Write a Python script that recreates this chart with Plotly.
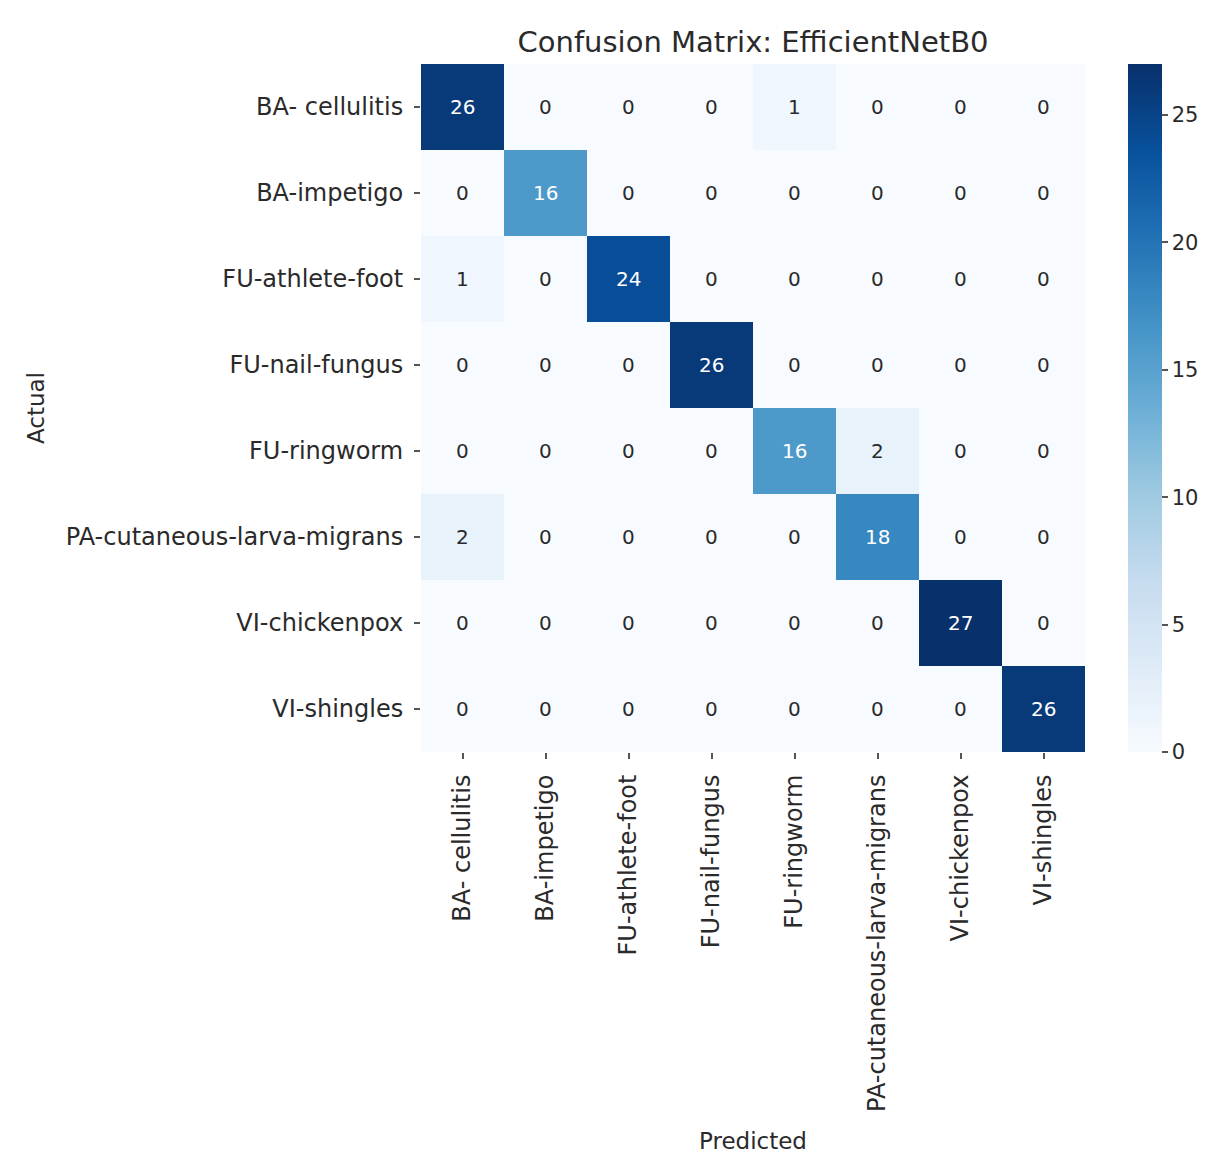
import plotly.graph_objects as go

# Class labels shared by both axes
classes = [
    "BA- cellulitis",
    "BA-impetigo",
    "FU-athlete-foot",
    "FU-nail-fungus",
    "FU-ringworm",
    "PA-cutaneous-larva-migrans",
    "VI-chickenpox",
    "VI-shingles",
]

# Confusion counts: rows = actual, columns = predicted
row_ba_cellulitis = [26, 0, 0, 0, 1, 0, 0, 0]
row_ba_impetigo = [0, 16, 0, 0, 0, 0, 0, 0]
row_fu_athlete_foot = [1, 0, 24, 0, 0, 0, 0, 0]
row_fu_nail_fungus = [0, 0, 0, 26, 0, 0, 0, 0]
row_fu_ringworm = [0, 0, 0, 0, 16, 2, 0, 0]
row_pa_clm = [2, 0, 0, 0, 0, 18, 0, 0]
row_vi_chickenpox = [0, 0, 0, 0, 0, 0, 27, 0]
row_vi_shingles = [0, 0, 0, 0, 0, 0, 0, 26]

matrix = [
    row_ba_cellulitis,
    row_ba_impetigo,
    row_fu_athlete_foot,
    row_fu_nail_fungus,
    row_fu_ringworm,
    row_pa_clm,
    row_vi_chickenpox,
    row_vi_shingles,
]

colorbar_ticks = [0, 5, 10, 15, 20, 25]

# Matplotlib "Blues" colormap stops
blues = ["#f7fbff", "#deebf7", "#c6dbef", "#9ecae1", "#6baed6",
         "#4292c6", "#2171b5", "#08519c", "#08306b"]
colorscale = [[i / (len(blues) - 1), c] for i, c in enumerate(blues)]

zmin = 0
zmax = max(max(r) for r in matrix)

FONT = "DejaVu Sans"
TEXT = "#2a2a2a"

# Plot-area geometry in pixels
W, H = 1212, 1154
L, R, T, B = 421, 127, 64, 402
plot_w = W - L - R

fig = go.Figure(
    go.Heatmap(
        z=matrix,
        x=classes,
        y=classes,
        zmin=zmin,
        zmax=zmax,
        colorscale=colorscale,
        showscale=True,
        colorbar=dict(
            x=(1128 - L) / plot_w,
            xanchor="left",
            xref="paper",
            xpad=0,
            y=0.5,
            yanchor="middle",
            ypad=0,
            len=1.0,
            lenmode="fraction",
            thickness=34,
            outlinewidth=0,
            tickvals=colorbar_ticks,
            ticks="outside",
            ticklen=6,
            tickwidth=1.5,
            tickcolor="#555555",
            tickfont=dict(family=FONT, size=21, color=TEXT),
        ),
        hoverinfo="skip",
    )
)

# Cell annotations: white text on dark cells, dark text on light cells
annotations = []
for i, row in enumerate(matrix):
    for j, v in enumerate(row):
        frac = (v - zmin) / (zmax - zmin)
        annotations.append(dict(
            x=classes[j], y=classes[i], xref="x", yref="y",
            text=str(v), showarrow=False,
            font=dict(family=FONT, size=20,
                      color="white" if frac > 0.4 else TEXT),
        ))

fig.update_layout(
    width=W,
    height=H,
    margin=dict(l=L, r=R, t=T, b=B),
    paper_bgcolor="white",
    plot_bgcolor="white",
    font=dict(family=FONT, color=TEXT),
    title=dict(
        text="Confusion Matrix: EfficientNetB0",
        x=0.5, xref="paper", xanchor="center",
        y=1 - 42 / H, yref="container", yanchor="middle",
        font=dict(family=FONT, size=29, color=TEXT),
    ),
    annotations=annotations,
    xaxis=dict(
        title=dict(text="Predicted", standoff=22,
                   font=dict(family=FONT, size=23, color=TEXT)),
        tickangle=-90,
        ticks="outside",
        ticklen=6,
        tickwidth=1.5,
        tickcolor="#555555",
        ticklabelstandoff=6,
        tickfont=dict(family=FONT, size=24, color=TEXT),
        showgrid=False,
        zeroline=False,
        showline=False,
        automargin=False,
    ),
    yaxis=dict(
        title=dict(text="Actual", standoff=14,
                   font=dict(family=FONT, size=23, color=TEXT)),
        autorange="reversed",
        ticks="outside",
        ticklen=6,
        tickwidth=1.5,
        tickcolor="#555555",
        ticklabelstandoff=6,
        tickfont=dict(family=FONT, size=24, color=TEXT),
        showgrid=False,
        zeroline=False,
        showline=False,
        automargin=False,
    ),
)

fig.write_html("out.html")
